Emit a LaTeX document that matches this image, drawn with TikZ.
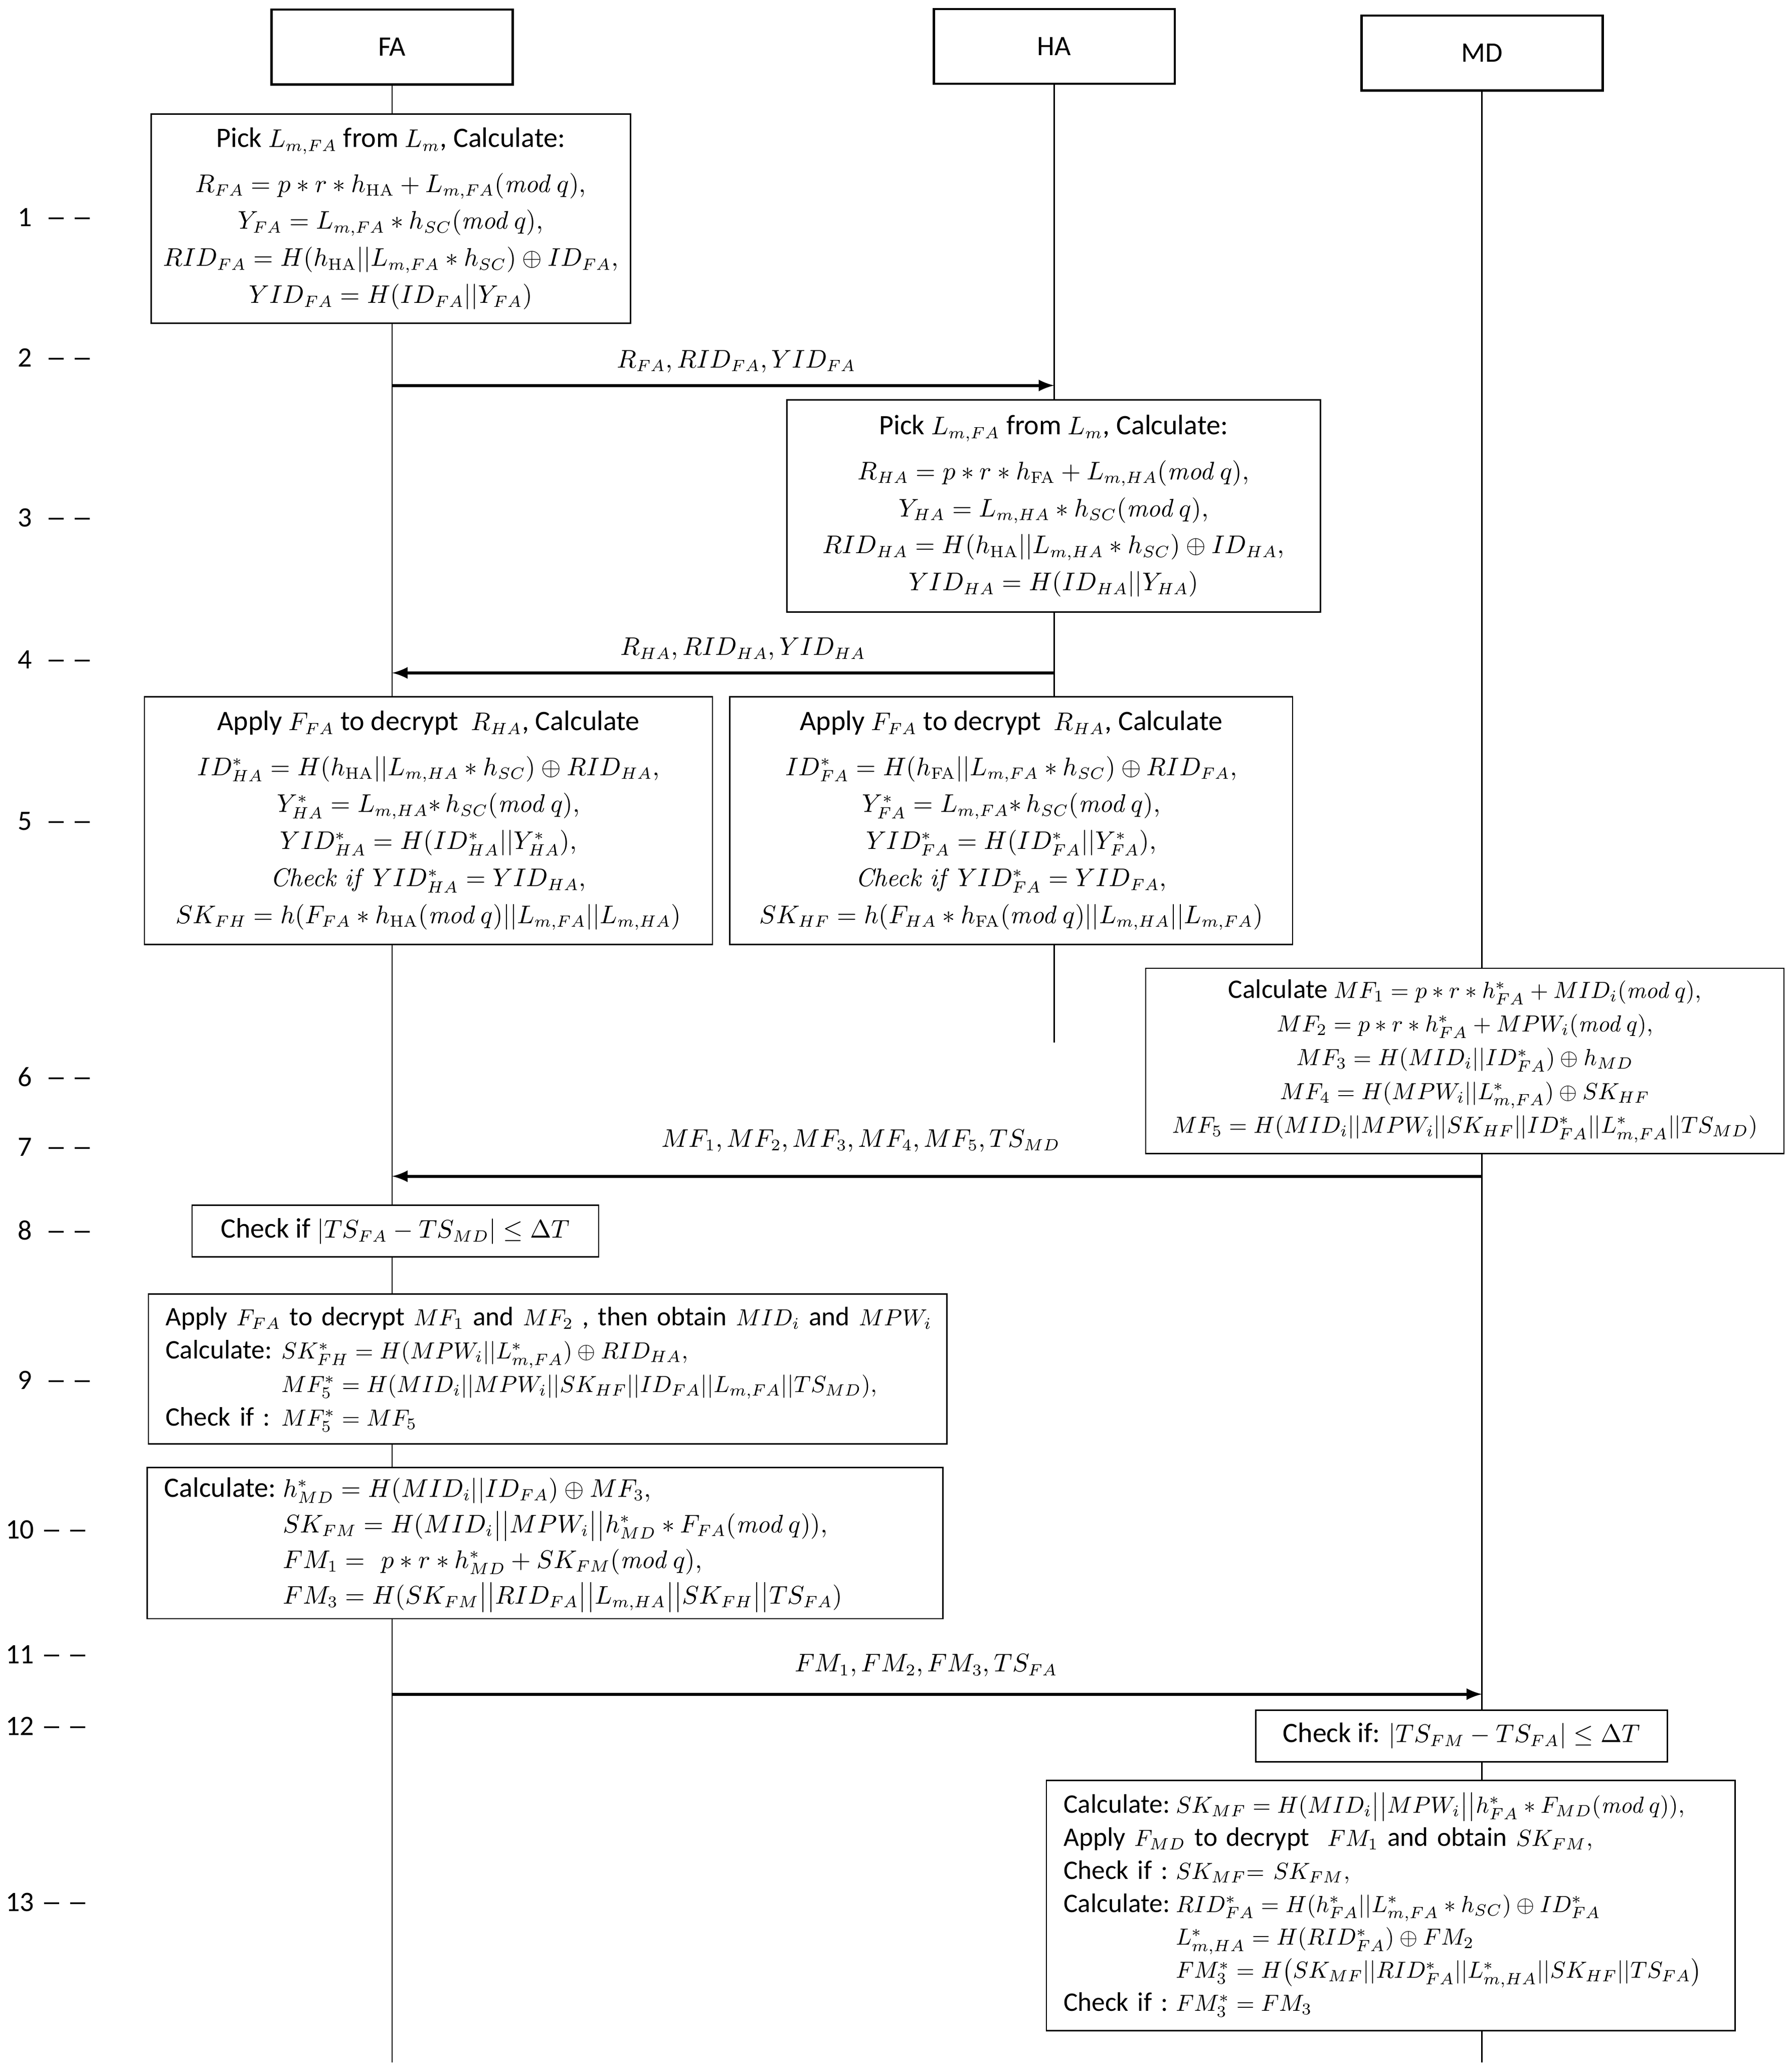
\documentclass[tikz,border=0pt]{standalone}
\usepackage{amsmath, amssymb}
\usepackage[no-math]{fontspec}
\setmainfont{Carlito}[Scale=1.15]
\usepackage{tikz}
\usetikzlibrary{positioning, arrows}

\newcommand{\twodash}{\scalebox{1.5}[1]{--}\hspace{2.2pt}\scalebox{1.5}[1]{--}}
\newcommand{\md}{\mathit{mod}\,q}

\begin{document}
\begin{tikzpicture}[x=0.02cm, y=-0.02cm,
    every node/.style={font=\fontsize{10.5}{15.9}\selectfont},
    agent/.style={draw, line width=1pt, minimum width=3.64cm, minimum height=1.13cm},
    calc/.style={draw, fill=white, line width=0.6pt, align=center, inner sep=0pt},
    calcl/.style={draw, fill=white, line width=0.6pt, align=left, inner ysep=0pt, inner xsep=0.26cm},
    life/.style={line width=0.6pt},
    msg/.style={-latex, line width=1.3pt},
    steplab/.style={anchor=west, inner sep=0pt}]

    \path[use as bounding box, fill=white] (0,0) rectangle (1353,1563.5);

    % the three parties
    \node[agent] (fa) at (296,35.5) {FA};
    \node[agent] (ha) at (796,35) {HA};
    \node[agent] (md) at (1119,40) {MD};

    \coordinate (faend) at (296,1557);
    \coordinate (haend) at (796,787);
    \coordinate (mdend) at (1119,1557);

    \draw[life] (fa) -- (faend);
    \draw[life] (ha) -- (haend);
    \draw[life] (md) -- (mdend);

    % step numbers
    \node[steplab] (lab1) at (13,164) {1\hspace{6pt}\twodash};
    \node[steplab] (lab2) at (13,270) {2\hspace{6pt}\twodash};
    \node[steplab] (lab3) at (13,391) {3\hspace{6pt}\twodash};
    \node[steplab] (lab4) at (13,498) {4\hspace{6pt}\twodash};
    \node[steplab] (lab5) at (13,620) {5\hspace{6pt}\twodash};
    \node[steplab] (lab6) at (13,813) {6\hspace{6pt}\twodash};
    \node[steplab] (lab7) at (13,866) {7\hspace{6pt}\twodash};
    \node[steplab] (lab8) at (13,929) {8\hspace{6pt}\twodash};
    \node[steplab] (lab9) at (13,1042) {9\hspace{6pt}\twodash};
    \node[steplab] (lab10) at (4,1155) {10\hspace{3pt}\twodash};
    \node[steplab] (lab11) at (4,1249) {11\hspace{3pt}\twodash};
    \node[steplab] (lab12) at (4,1303) {12\hspace{3pt}\twodash};
    \node[steplab] (lab13) at (4,1436) {13\hspace{3pt}\twodash};

    % FA computes
    \node[calc, minimum width=7.24cm, minimum height=3.16cm] (fa1) at (295,165) {
        Pick $L_{m,FA}$ from $L_m$, Calculate:\\[3.4pt]
        $R_{FA} = p*r*h_{\mathrm{HA}} + L_{m,FA}(\md),$\\
        $Y_{FA} = L_{m,FA}*h_{SC}(\md),$\\
        $RID_{FA} = H(h_{\mathrm{HA}}||L_{m,FA}*h_{SC}) \oplus ID_{FA},$\\
        $YID_{FA} = H(ID_{FA}||Y_{FA})$};

    % HA computes
    \node[calc, minimum width=8.06cm, minimum height=3.2cm] (ha1) at (795.5,382) {
        Pick $L_{m,FA}$ from $L_m$, Calculate:\\[3.4pt]
        $R_{HA} = p*r*h_{\mathrm{FA}} + L_{m,HA}(\md),$\\
        $Y_{HA} = L_{m,HA}*h_{SC}(\md),$\\
        $RID_{HA} = H(h_{\mathrm{HA}}||L_{m,HA}*h_{SC}) \oplus ID_{HA},$\\
        $YID_{HA} = H(ID_{HA}||Y_{HA})$};

    % both check
    \node[calc, minimum width=8.58cm, minimum height=3.74cm] (fa2) at (323.5,619.5) {
        Apply $F_{FA}$ to decrypt \ $R_{HA}$, Calculate\\[3.4pt]
        $ID^*_{HA} = H(h_{\mathrm{HA}}||L_{m,HA}*h_{SC}) \oplus RID_{HA},$\\
        $Y^*_{HA} = L_{m,HA}{*}\,h_{SC}(\md),$\\
        $YID^*_{HA} = H(ID^*_{HA}||Y^*_{HA}),$\\
        $\mathit{Check\ if}\ YID^*_{HA} = YID_{HA},$\\
        $SK_{FH} = h(F_{FA}*h_{\mathrm{HA}}(\md)||L_{m,FA}||L_{m,HA})$};

    \node[calc, minimum width=8.5cm, minimum height=3.74cm] (ha2) at (763.5,619.5) {
        Apply $F_{FA}$ to decrypt \ $R_{HA}$, Calculate\\[3.4pt]
        $ID^*_{FA} = H(h_{\mathrm{FA}}||L_{m,FA}*h_{SC}) \oplus RID_{FA},$\\
        $Y^*_{FA} = L_{m,FA}{*}\,h_{SC}(\md),$\\
        $YID^*_{FA} = H(ID^*_{FA}||Y^*_{FA}),$\\
        $\mathit{Check\ if}\ YID^*_{FA} = YID_{FA},$\\
        $SK_{HF} = h(F_{HA}*h_{\mathrm{FA}}(\md)||L_{m,HA}||L_{m,FA})$};

    % MD computes
    \node[calc, minimum width=9.64cm, minimum height=2.8cm,
        font=\fontsize{10}{14.5}\selectfont] (md1) at (1106,801) {
        Calculate $MF_1 = p*r*h^*_{FA} + MID_i(\md),$\\
        $MF_2 = p*r*h^*_{FA} + MPW_i(\md),$\\
        $MF_3 = H(MID_i||ID^*_{FA}) \oplus h_{MD}$\\
        $MF_4 = H(MPW_i||L^*_{m,FA}) \oplus SK_{HF}$\\
        $MF_5 = H(MID_i||MPW_i||SK_{HF}||ID^*_{FA}||L^*_{m,FA}||TS_{MD})$};

    \node[calc, minimum width=6.14cm, minimum height=0.78cm] (fa3) at (298.5,929.5) {
        Check if $|TS_{FA} - TS_{MD}| \le \Delta T$};

    \node[calcl, text width=11.54cm, minimum height=2.26cm,
        font=\fontsize{10}{14.4}\selectfont] (fa4) at (413.5,1033.5) {
        \begin{tabular}{@{}l@{\hspace{4pt}}l@{}}
        \multicolumn{2}{@{}l@{}}{Apply $F_{FA}$ to decrypt $MF_1$ and $MF_2$ , then obtain $MID_i$ and $MPW_i$}\\
        Calculate: & $SK^*_{FH} = H(MPW_i||L^*_{m,FA}) \oplus RID_{HA},$\\
         & $MF^*_5 = H(MID_i||MPW_i||SK_{HF}||ID_{FA}||L_{m,FA}||TS_{MD}),$\\
        Check if : & $MF^*_5 = MF_5$
        \end{tabular}};

    \node[calcl, text width=11.5cm, minimum height=2.28cm,
        font=\fontsize{10.5}{15.3}\selectfont] (fa5) at (411.5,1165) {
        \begin{tabular}{@{}l@{\hspace{3pt}}l@{}}
        Calculate: & $h^*_{MD} = H(MID_i||ID_{FA}) \oplus MF_3,$\\
         & $SK_{FM} = H(MID_i\big|\big|MPW_i\big|\big|h^*_{MD}*F_{FA}(\md)),$\\
         & $FM_1 = \ p*r*h^*_{MD} + SK_{FM}(\md),$\\
         & $FM_3 = H(SK_{FM}\big|\big|RID_{FA}\big|\big|L_{m,HA}\big|\big|SK_{FH}\big|\big|TS_{FA})$
        \end{tabular}};

    \node[calc, minimum width=6.22cm, minimum height=0.78cm] (md2) at (1103.5,1310.5) {
        Check if: $|TS_{FM} - TS_{FA}| \le \Delta T$};

    \node[calcl, text width=9.88cm, minimum height=3.78cm,
        font=\fontsize{10}{14.2}\selectfont] (md3) at (1050,1438.5) {
        \begin{tabular}{@{}l@{\hspace{2.5pt}}l@{}}
        Calculate: & $SK_{MF} = H(MID_i\big|\big|MPW_i\big|\big|h^*_{FA}*F_{MD}(\md)),$\\
        \multicolumn{2}{@{}l@{}}{Apply $F_{MD}$ to decrypt \ $FM_1$ and obtain $SK_{FM},$}\\
        Check if : & $SK_{MF}{=}\ SK_{FM},$\\
        Calculate: & $RID^*_{FA} = H(h^*_{FA}||L^*_{m,FA}*h_{SC}) \oplus ID^*_{FA}$\\
         & $L^*_{m,HA} = H(RID^*_{FA}) \oplus FM_2$\\
         & $FM^*_3 = H\big(SK_{MF}||RID^*_{FA}||L^*_{m,HA}||SK_{HF}||TS_{FA}\big)$\\
        Check if : & $FM^*_3 = FM_3$
        \end{tabular}};

    % messages
    \coordinate (m1s) at (296,291);
    \coordinate (m1e) at (796,291);
    \coordinate (m2s) at (796,508);
    \coordinate (m2e) at (296,508);
    \coordinate (m3s) at (1119,888);
    \coordinate (m3e) at (296,888);
    \coordinate (m4s) at (296,1279);
    \coordinate (m4e) at (1119,1279);

    \draw[msg] (m1s) -- node[above=1pt, pos=0.52] (msg1) {$R_{FA}, RID_{FA}, YID_{FA}$} (m1e);
    \draw[msg] (m2s) -- node[above=1pt, pos=0.47] (msg2) {$R_{HA}, RID_{HA}, YID_{HA}$} (m2e);
    \draw[msg] (m3s) -- node[above=6pt, pos=0.57] (msg3) {$MF_1, MF_2, MF_3, MF_4, MF_5, TS_{MD}$} (m3e);
    \draw[msg] (m4s) -- node[above=3pt, pos=0.49] (msg4) {$FM_1, FM_2, FM_3, TS_{FA}$} (m4e);
\end{tikzpicture}
\end{document}
